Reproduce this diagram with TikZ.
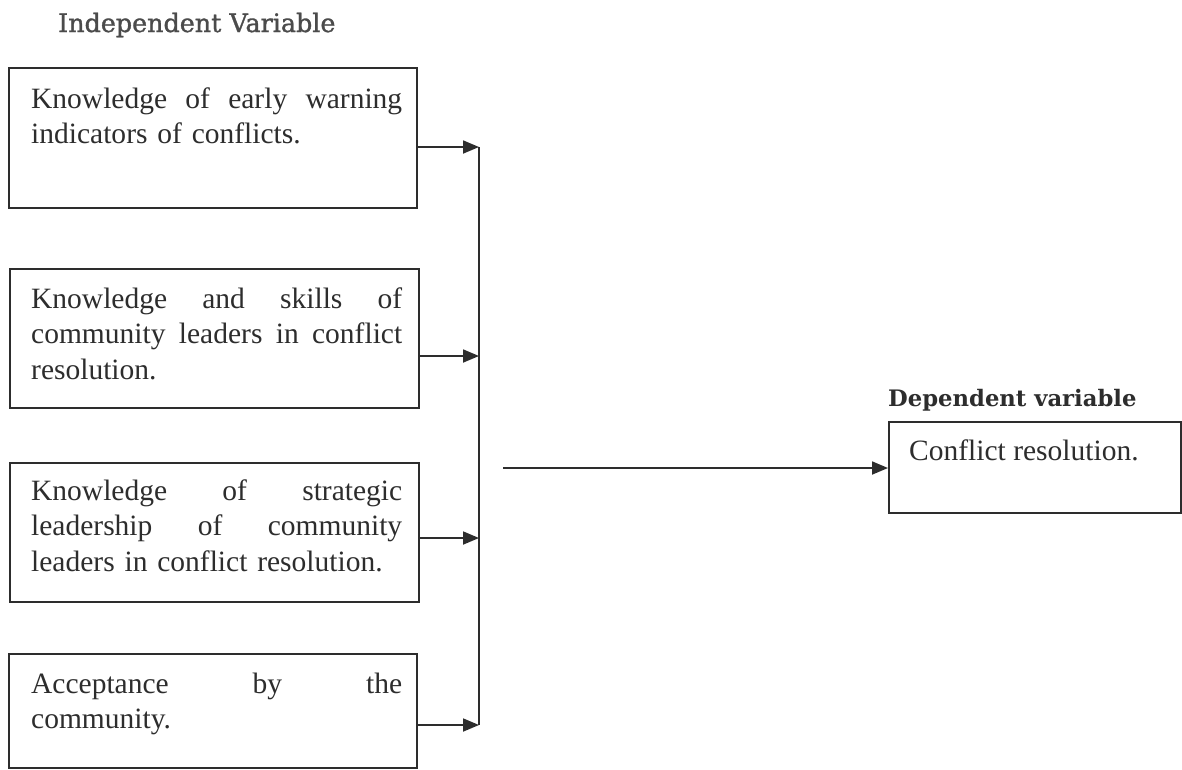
\documentclass[tikz,border=0pt]{standalone}
\usepackage{fontspec}
\setmainfont{Liberation Serif}
\newfontfamily\headfont{DejaVu Serif}
\newfontfamily\titlefont[FakeBold=1.2]{DejaVu Serif}
\usetikzlibrary{arrows.meta}
\definecolor{ink}{RGB}{45,45,45}
\definecolor{headink}{RGB}{75,75,75}
\newcommand{\jline}[1]{\makebox[371pt][s]{\spaceskip=0pt\xspaceskip=0pt #1}}
\begin{document}
\begin{tikzpicture}[x=1pt,y=-1pt,
  varbox/.style={draw=ink,line width=1.8pt,anchor=north west,inner sep=0pt,minimum width=#1},
  boxtext/.style={anchor=base west,inner sep=0pt,text width=371pt,align=left,text=ink,
    font=\fontsize{29.5}{35.5}\selectfont},
  arr/.style={draw=ink,line width=1.8pt,-{Triangle[length=16pt,width=13pt]}},
  bus/.style={draw=ink,line width=1.8pt}]
\useasboundingbox[fill=white] (0,0) rectangle (1182,769);

\node[anchor=base west,inner sep=0pt,text=headink,font=\titlefont\fontsize{25.4}{30}\selectfont] (indep) at (58,32) {Independent Variable};

\node[varbox=408pt,minimum height=140pt] (box1) at (8,67) {};
\node[varbox=409pt,minimum height=139pt] (box2) at (9,268) {};
\node[varbox=409pt,minimum height=139pt] (box3) at (9,462) {};
\node[varbox=408pt,minimum height=114pt] (box4) at (8,653) {};

\node[boxtext] (t1) at (31,108) {\jline{Knowledge\hfill of\hfill early\hfill warning}\\indicators of conflicts.};
\node[boxtext] (t2) at (31,308) {\jline{Knowledge\hfill and\hfill skills\hfill of}\\\jline{community\hfill leaders\hfill in\hfill conflict}\\resolution.};
\node[boxtext] (t3) at (31,500) {\jline{Knowledge\hfill of\hfill strategic}\\\jline{leadership\hfill of\hfill community}\\leaders in conflict resolution.};
\node[boxtext] (t4) at (31,693) {\jline{Acceptance\hfill by\hfill the}\\community.};

\coordinate (j1) at (479,147);
\coordinate (j2) at (479,356);
\coordinate (j3) at (479,538);
\coordinate (j4) at (479,725);
\coordinate (start) at (503,468);

\draw[bus] (j1) -- (j4);
\draw[arr] (j1 -| box1.east) -- (j1);
\draw[arr] (j2 -| box2.east) -- (j2);
\draw[arr] (j3 -| box3.east) -- (j3);
\draw[arr] (j4 -| box4.east) -- (j4);

\node[anchor=base west,inner sep=0pt,text=ink,font=\headfont\bfseries\fontsize{22.7}{26}\selectfont] (dephead) at (888,406) {Dependent variable};
\node[varbox=292pt,minimum height=91pt] (dep) at (888,421) {};
\node[anchor=base west,inner sep=0pt,text=ink,font=\fontsize{29.5}{35.5}\selectfont] (deptext) at (909,460) {Conflict resolution.};

\draw[arr] (start) -- (start -| dep.west);
\end{tikzpicture}
\end{document}
